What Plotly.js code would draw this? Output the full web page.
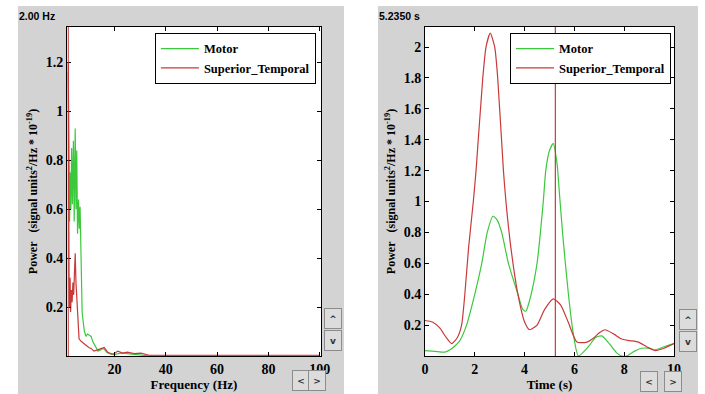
<!DOCTYPE html>
<html>
<head>
<meta charset="utf-8">
<script src="https://cdn.plot.ly/plotly-3.0.1.min.js"></script>
<style>
  html, body { margin: 0; padding: 0; background: #ffffff; width: 705px; height: 394px; overflow: hidden; }
  #left { position: absolute; left: 18px; top: 6px; width: 326px; height: 388px; }
  #right { position: absolute; left: 378px; top: 6px; width: 320px; height: 388px; }
</style>
</head>
<body>
<div id="left"></div>
<div id="right"></div>
<script>
// ---- Data: left panel (power spectrum) ----
const motorFreq  = [2.0, 2.2, 2.5, 2.8, 3.0, 3.3, 3.6, 4.0, 4.3, 4.7, 5.0, 5.3, 5.6, 6.0, 6.3, 6.6, 7.0, 7.4, 7.8, 8.3, 8.9, 9.5, 10.2, 10.9, 11.5, 12.0, 12.8, 13.6, 14.5, 15.2, 16.0, 17.0, 17.9, 19.0, 20.0, 21.5, 23.0, 25.0, 27.0, 29.0, 31.0, 33.0, 40, 60, 80, 100];
const motorPower = [1.16, 0.9, 0.55, 0.75, 0.6, 0.85, 0.62, 0.88, 0.55, 0.93, 0.6, 0.84, 0.5, 0.64, 0.52, 0.61, 0.3, 0.18, 0.14, 0.1, 0.08, 0.09, 0.085, 0.08, 0.06, 0.05, 0.03, 0.02, 0.025, 0.03, 0.028, 0.015, 0.01, 0.006, 0.005, 0.01, 0.012, 0.01, 0.008, 0.005, 0.003, 0.001, 0.001, 0.001, 0.001, 0.001];
const stFreq  = [2.0, 2.1, 2.3, 2.5, 2.7, 2.9, 3.2, 3.5, 3.8, 4.1, 4.4, 4.7, 5.0, 5.4, 5.8, 6.2, 7.0, 7.6, 8.2, 9.0, 10.0, 11.0, 12.0, 13.4, 14.8, 16.0, 17.4, 19.0, 20.0, 21.3, 23.2, 25.0, 27.7, 30.3, 33.5, 40, 60, 80, 100];
const stPower = [1.2, 0.6, 0.33, 0.2, 0.32, 0.18, 0.27, 0.22, 0.3, 0.25, 0.38, 0.42, 0.3, 0.2, 0.1, 0.07, 0.06, 0.055, 0.05, 0.04, 0.035, 0.03, 0.02, 0.025, 0.03, 0.035, 0.015, 0.008, 0.01, 0.02, 0.012, 0.016, 0.01, 0.012, 0.003, 0.003, 0.003, 0.003, 0.003];
const freqCursor = 2.0;
const freqTicks = [20, 40, 60, 80, 100];
const freqPowerTicks = [0.2, 0.4, 0.6, 0.8, 1, 1.2];

// ---- Data: right panel (power over time) ----
const motorTime  = [0, 0.4, 0.8, 1.0, 1.2, 1.4, 1.67, 2.0, 2.28, 2.5, 2.73, 2.9, 3.08, 3.35, 3.73, 3.93, 4.05, 4.2, 4.5, 4.75, 4.85, 5.0, 5.15, 5.3, 5.4, 5.55, 5.76, 5.95, 6.16, 6.56, 6.85, 7.1, 7.4, 7.7, 7.9, 8.1, 8.4, 8.7, 9.0, 9.24, 9.6, 10];
const motorValue = [0.035, 0.03, 0.025, 0.04, 0.065, 0.1, 0.2, 0.4, 0.6, 0.8, 0.905, 0.88, 0.8, 0.6, 0.4, 0.3, 0.29, 0.36, 0.6, 1.0, 1.2, 1.33, 1.375, 1.25, 1.05, 0.75, 0.4, 0.15, 0.0, 0.06, 0.12, 0.13, 0.08, 0.02, 0.0, 0.0, 0.03, 0.05, 0.05, 0.04, 0.06, 0.08];
const stTime  = [0, 0.3, 0.6, 0.85, 1.07, 1.3, 1.47, 1.6, 1.75, 1.94, 2.05, 2.32, 2.45, 2.62, 2.8, 2.92, 3.15, 3.25, 3.45, 3.73, 4.0, 4.2, 4.5, 4.8, 5.15, 5.45, 5.75, 6.1, 6.5, 6.8, 7.0, 7.23, 7.6, 7.9, 8.2, 8.57, 8.9, 9.24, 9.6, 10];
const stValue = [0.23, 0.22, 0.18, 0.12, 0.08, 0.12, 0.2, 0.4, 0.7, 1.0, 1.2, 1.8, 2.0, 2.09, 2.0, 1.8, 1.2, 1.0, 0.7, 0.4, 0.22, 0.17, 0.2, 0.3, 0.37, 0.33, 0.22, 0.09, 0.09, 0.12, 0.15, 0.17, 0.14, 0.11, 0.1, 0.09, 0.06, 0.035, 0.05, 0.08];
const timeCursor = 5.235;
const timeTicks = [0, 2, 4, 6, 8, 10];
const timePowerTicks = [0.2, 0.4, 0.6, 0.8, 1, 1.2, 1.4, 1.6, 1.8, 2];

const seriesNames = ['Motor', 'Superior_Temporal'];
const GREEN = '#3cc83c';
const RED = '#c83a3a';
const GRAY = '#d3d3d3';
const SERIF = 'Liberation Serif, Times New Roman, serif';

const yTitle = 'Power\u00a0\u00a0\u00a0(signal units<sup>2</sup>/Hz * 10<sup>-19</sup>)';

function axisBase() {
  return {
    showgrid: false, zeroline: false, showline: true, linecolor: '#000', linewidth: 1,
    mirror: 'ticks', ticks: 'inside', ticklen: 4, tickcolor: '#000',
    tickfont: { family: SERIF, size: 14, color: '#000', weight: 'bold' },
    fixedrange: true
  };
}

function buttons(pos) {
  const common = { xref: 'paper', yref: 'paper', showarrow: false, bgcolor: '#dcdcdc',
    bordercolor: '#8c8c8c', borderwidth: 1, borderpad: 0, width: 16, height: 19,
    font: { family: 'DejaVu Sans', size: 9, color: '#333' }, xanchor: 'center', yanchor: 'middle' };
  return [
    Object.assign({}, common, { text: '^', x: pos.ud, y: pos.up }),
    Object.assign({}, common, { text: 'v', x: pos.ud, y: pos.down }),
    Object.assign({}, common, { text: '&lt;', x: pos.lx, y: pos.lr }),
    Object.assign({}, common, { text: '&gt;', x: pos.rx, y: pos.lr })
  ];
}

function legendBase(xr) {
  return {
    x: xr, xanchor: 'right', y: 0.982, yanchor: 'top',
    bgcolor: '#fff', bordercolor: '#000', borderwidth: 1,
    font: { family: SERIF, size: 12.5, color: '#000', weight: 'bold' },
    itemwidth: 38, tracegroupgap: 0
  };
}

// ---- Left panel ----
const leftData = [
  { x: motorFreq, y: motorPower, name: seriesNames[0], type: 'scatter', mode: 'lines', line: { color: GREEN, width: 1.2 } },
  { x: stFreq, y: stPower, name: seriesNames[1], type: 'scatter', mode: 'lines', line: { color: RED, width: 1.2 } }
];
const leftLayout = {
  width: 326, height: 388,
  paper_bgcolor: GRAY, plot_bgcolor: '#fff',
  margin: { l: 49, r: 23, t: 21, b: 38 },
  font: { family: SERIF, size: 13, color: '#000', weight: 'bold' },
  title: { text: '2.00 Hz', x: 1 / 326, xanchor: 'left', xref: 'container', y: 1 - 10.5 / 388, yanchor: 'middle', yref: 'container',
           font: { family: 'Liberation Sans, Arial, sans-serif', size: 10.5, color: '#000', weight: 'bold' } },
  xaxis: Object.assign(axisBase(), { range: [1.5, 100.5], tickvals: freqTicks,
    title: { text: 'Frequency (Hz)', standoff: 4, font: { family: SERIF, size: 13, color: '#000', weight: 'bold' } } }),
  yaxis: Object.assign(axisBase(), { range: [0, 1.345], tickvals: freqPowerTicks,
    title: { text: yTitle, standoff: 5, font: { family: SERIF, size: 12, color: '#000', weight: 'bold' } } }),
  showlegend: true,
  legend: legendBase(0.98),
  shapes: [{ type: 'line', xref: 'x', yref: 'paper', x0: freqCursor, x1: freqCursor, y0: 0, y1: 1, line: { color: RED, width: 1 } }],
  annotations: buttons({ ud: 1.049, up: 0.1155, down: 0.0456, lx: 0.921, rx: 0.986, lr: -0.073 })
};

// ---- Right panel ----
const rightData = [
  { x: motorTime, y: motorValue, name: seriesNames[0], type: 'scatter', mode: 'lines', line: { color: GREEN, width: 1.2, shape: 'spline', smoothing: 0.6 } },
  { x: stTime, y: stValue, name: seriesNames[1], type: 'scatter', mode: 'lines', line: { color: RED, width: 1.2, shape: 'spline', smoothing: 0.6 } }
];
const rightLayout = {
  width: 320, height: 388,
  paper_bgcolor: GRAY, plot_bgcolor: '#fff',
  margin: { l: 47, r: 24, t: 21, b: 38 },
  font: { family: SERIF, size: 13, color: '#000', weight: 'bold' },
  title: { text: '5.2350 s', x: 1 / 320, xanchor: 'left', xref: 'container', y: 1 - 10.5 / 388, yanchor: 'middle', yref: 'container',
           font: { family: 'Liberation Sans, Arial, sans-serif', size: 10.5, color: '#000', weight: 'bold' } },
  xaxis: Object.assign(axisBase(), { range: [0, 10], tickvals: timeTicks,
    title: { text: 'Time (s)', standoff: 4, font: { family: SERIF, size: 13, color: '#000', weight: 'bold' } } }),
  yaxis: Object.assign(axisBase(), { range: [0, 2.13], tickvals: timePowerTicks,
    title: { text: yTitle, standoff: 5, font: { family: SERIF, size: 12, color: '#000', weight: 'bold' } } }),
  showlegend: true,
  legend: legendBase(0.988),
  shapes: [{ type: 'line', xref: 'x', yref: 'paper', x0: timeCursor, x1: timeCursor, y0: 0, y1: 1, line: { color: RED, width: 1.2 } }],
  annotations: buttons({ ud: 1.058, up: 0.111, down: 0.044, lx: 0.9, rx: 0.996, lr: -0.0775 })
};

const config = { staticPlot: true, displayModeBar: false };
Plotly.newPlot('left', leftData, leftLayout, config);
Plotly.newPlot('right', rightData, rightLayout, config);
</script>
</body>
</html>
